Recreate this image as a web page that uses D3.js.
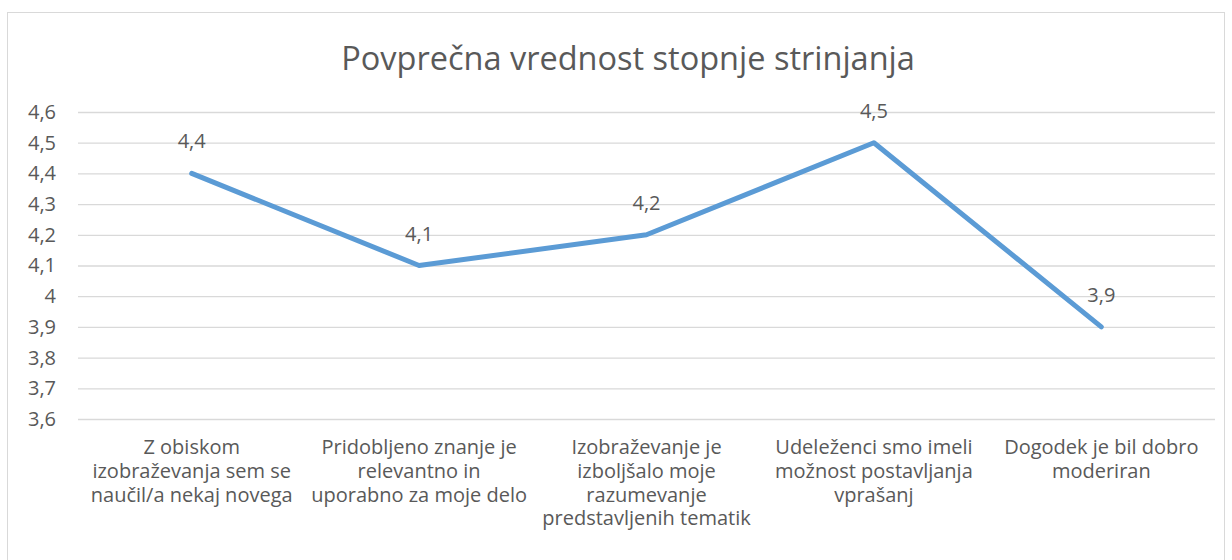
<!DOCTYPE html>
<html><head><meta charset="utf-8">
<script src="https://cdn.jsdelivr.net/npm/d3@7"></script>
<style>body{margin:0;background:#fff}svg{display:block}text{font-family:"Open Sans","Noto Sans",sans-serif;fill:#595959}</style>
</head><body><svg id="c" width="1232" height="560"></svg>
<script>
const title = "Povprečna vrednost stopnje strinjanja";
const categories = [
  ["Z obiskom","izobraževanja sem se","naučil/a nekaj novega"],
  ["Pridobljeno znanje je","relevantno in","uporabno za moje delo"],
  ["Izobraževanje je","izboljšalo moje","razumevanje","predstavljenih tematik"],
  ["Udeleženci smo imeli","možnost postavljanja","vprašanj"],
  ["Dogodek je bil dobro","moderiran"]
];
const values = [4.4, 4.1, 4.2, 4.5, 3.9];
const yTicks = [3.6,3.7,3.8,3.9,4.0,4.1,4.2,4.3,4.4,4.5,4.6];
const fmt = v => (Math.round(v*10)/10).toString().replace(".", ",");

const svg = d3.select("#c");
svg.append("rect").attr("x",7.5).attr("y",12.5).attr("width",1217).attr("height",560)
  .attr("fill","#fff").attr("stroke","#d9d9d9").attr("stroke-width",1);

const pL=78, pR=1215, pT=112, pB=419;
const x = d3.scaleBand().domain(d3.range(categories.length)).range([pL,pR]);
const y = d3.scaleLinear().domain([3.6,4.6]).range([pB,pT]);

svg.append("text").attr("x",628).attr("y",70).attr("text-anchor","middle")
  .style("font-size","32.5px").text(title);

const yAxis = svg.append("g").attr("transform",`translate(${pL},0)`)
  .call(d3.axisLeft(y).tickValues(yTicks).tickSize(-(pR-pL)).tickFormat(fmt));
yAxis.select(".domain").remove();
yAxis.selectAll(".tick line").attr("stroke","#d9d9d9").attr("stroke-width",1.3);
yAxis.selectAll(".tick text").attr("x",-22).style("font-size","20px").attr("fill","#595959");

const xAxis = svg.append("g").attr("transform",`translate(0,${pB})`)
  .call(d3.axisBottom(x).tickSize(0).tickFormat(""));
xAxis.select(".domain").remove();
xAxis.selectAll(".tick").each(function(d){
  const t = d3.select(this).select("text").text(null).attr("y",35).attr("dy",0)
    .style("font-size","20px").attr("fill","#595959");
  categories[d].forEach((ln,i)=>{
    t.append("tspan").attr("x",0).attr("dy",i===0?0:23.8).text(ln);
  });
});

const line = d3.line().x((d,i)=>x(i)+x.bandwidth()/2).y(d=>y(d));
svg.append("path").datum(values).attr("d",line).attr("fill","none")
  .attr("stroke","#5b9bd5").attr("stroke-width",5).attr("stroke-linecap","round").attr("stroke-linejoin","round");

svg.selectAll(".lbl").data(values).enter().append("text").attr("class","lbl")
  .attr("x",(d,i)=>x(i)+x.bandwidth()/2).attr("y",d=>y(d)-25)
  .attr("text-anchor","middle").style("font-size","20px").text(d=>fmt(d));
</script></body></html>
